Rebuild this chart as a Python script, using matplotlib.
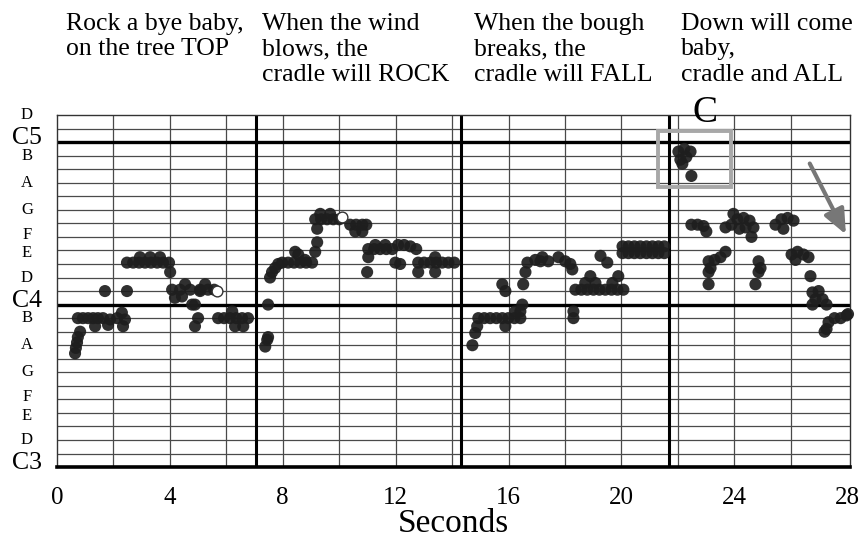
import numpy as np
import matplotlib
matplotlib.use('Agg')
import matplotlib.pyplot as plt
from matplotlib.patches import Rectangle
from matplotlib.transforms import blended_transform_factory

plt.rcParams['font.family'] = ['Liberation Serif', 'DejaVu Serif']

# pitch traces, time in seconds, pitch in semitones (MIDI: C3=48, C4=60, C5=72)
t1 = [0.64, 0.67, 0.71, 0.74, 0.82, 0.74, 0.92, 1.10, 1.28, 1.45, 1.63, 1.35,
      1.81, 1.88, 2.13, 2.30, 2.34, 2.41, 1.70, 2.48,
      2.48, 2.70, 2.91, 3.12, 3.33, 3.55, 3.76, 3.97, 2.94, 3.30, 3.65, 4.01,
      4.08, 4.36, 4.72, 5.07, 5.35, 5.57, 4.54, 4.18, 4.43, 4.79, 4.89, 5.07, 5.25,
      5.00, 4.89, 5.71, 5.92, 6.13, 6.35, 6.56, 6.77, 6.21, 6.31, 6.60]
p1 = [56.4, 56.8, 57.2, 57.6, 58.0, 59.0, 59.0, 59.0, 59.0, 59.0, 59.0, 58.4,
      58.5, 58.9, 59.0, 59.4, 58.4, 58.9, 61.0, 61.0,
      63.1, 63.1, 63.1, 63.1, 63.1, 63.1, 63.1, 63.1, 63.5, 63.5, 63.5, 62.4,
      61.1, 61.1, 61.1, 61.1, 61.1, 61.1, 61.5, 60.5, 60.6, 60.0, 60.0, 61.0, 61.5,
      59.0, 58.4, 59.0, 59.0, 59.0, 59.0, 59.0, 59.0, 59.5, 58.4, 58.4]

t2 = [7.38, 7.45, 7.48, 7.48, 7.55, 7.62, 7.73, 7.84,
      7.98, 8.19, 8.40, 8.62, 8.83, 9.04, 8.44, 8.55, 8.79, 9.15, 9.22,
      9.15, 9.36, 9.57, 9.79, 10.00, 9.33, 9.68, 9.22,
      10.39, 10.60, 10.82, 10.96, 10.57, 10.82,
      11.03, 11.24, 11.45, 11.67, 11.88, 11.28, 11.63, 11.03, 10.99,
      12.09, 12.30, 12.52, 12.73, 11.99, 12.16,
      12.80, 13.01, 13.23, 13.44, 13.65, 13.87, 14.08, 13.40, 12.80, 13.40]
p2 = [56.9, 57.4, 57.6, 60.0, 62.0, 62.4, 62.7, 63.0,
      63.1, 63.1, 63.1, 63.1, 63.1, 63.1, 63.9, 63.7, 63.3, 63.9, 64.6,
      66.3, 66.3, 66.3, 66.3, 66.3, 66.7, 66.7, 65.6,
      65.9, 65.9, 65.9, 65.9, 65.4, 65.4,
      64.1, 64.1, 64.1, 64.1, 64.1, 64.4, 64.4, 63.5, 62.4,
      64.4, 64.4, 64.3, 64.1, 63.1, 63.0,
      63.1, 63.1, 63.1, 63.1, 63.1, 63.1, 63.1, 63.5, 62.4, 62.4]

t3 = [14.72, 14.82, 14.89,
      14.93, 15.14, 15.35, 15.57, 15.78, 15.99, 16.21, 16.42,
      15.89, 16.24, 16.49, 16.42, 15.78, 15.89, 16.52,
      16.60, 16.67, 16.95, 17.20, 17.41, 17.13,
      17.77, 18.01, 18.19, 18.26, 18.30, 18.30,
      18.37, 18.58, 18.79, 19.01, 19.22, 19.43, 19.65, 19.86, 20.07,
      18.72, 19.08, 19.68, 18.90, 19.89, 19.26, 19.50,
      20.04, 20.25, 20.46, 20.67, 20.89, 21.10, 21.31, 21.52,
      20.04, 20.25, 20.46, 20.67, 20.89, 21.10, 21.31, 21.52]
p3 = [57.0, 57.9, 58.4,
      59.0, 59.0, 59.0, 59.0, 59.0, 59.0, 59.0, 59.0,
      58.4, 59.5, 60.0, 59.5, 61.5, 61.0, 61.5,
      62.4, 63.1, 63.3, 63.5, 63.2, 63.2,
      63.5, 63.2, 63.0, 62.6, 59.5, 59.0,
      61.1, 61.1, 61.1, 61.1, 61.1, 61.1, 61.1, 61.1, 61.1,
      61.6, 61.6, 61.6, 62.1, 62.1, 63.6, 63.1,
      64.3, 64.3, 64.3, 64.3, 64.3, 64.3, 64.3, 64.3,
      63.8, 63.8, 63.8, 63.8, 63.8, 63.8, 63.8, 63.8]

t4 = [22.02, 22.23, 22.45, 22.09, 22.30, 22.16, 22.48,
      22.48, 22.70, 22.91, 23.01,
      23.09, 23.30, 23.51, 23.69, 23.16, 23.09, 23.09,
      23.69, 23.90, 24.11, 24.33, 24.54, 24.18, 24.40, 24.68, 23.97, 24.61,
      24.86, 24.93, 24.86, 24.75,
      25.46, 25.67, 25.89, 26.10, 25.74,
      26.03, 26.24, 26.45, 26.17, 26.63, 26.70,
      26.77, 26.99, 26.88, 27.13, 26.77, 27.27,
      27.34, 27.55, 27.77, 27.98, 27.27, 28.03, 27.20]
p4 = [71.3, 71.5, 71.3, 70.7, 70.9, 70.4, 69.5,
      65.9, 65.9, 65.8, 65.4,
      63.2, 63.3, 63.5, 63.9, 62.7, 62.4, 61.5,
      65.7, 65.9, 66.3, 66.4, 66.2, 65.6, 65.7, 65.7, 66.7, 65.0,
      63.2, 62.7, 62.4, 61.5,
      65.9, 66.3, 66.4, 66.2, 65.6,
      63.7, 63.9, 63.7, 63.3, 63.5, 62.1,
      60.9, 61.0, 60.4, 60.4, 60.0, 60.0,
      58.7, 59.0, 59.0, 59.2, 58.2, 59.3, 58.0]

# open (white) points at phrase ends
open_t = [5.67, 10.10]
open_p = [61.0, 66.5]

phrase_breaks = [7.05, 14.3, 21.7]
xtick_vals = [0, 4, 8, 12, 16, 20, 24, 28]
note_pos = [74, 72, 71, 69, 67, 65, 64, 62, 60, 59, 57, 55, 53, 52, 50, 48]
note_names = ['D', 'C5', 'B', 'A', 'G', 'F', 'E', 'D', 'C4', 'B', 'A', 'G', 'F', 'E', 'D', 'C3']
lyrics = ["Rock a bye baby,\non the tree TOP",
          "When the wind\nblows, the\ncradle will ROCK",
          "When the bough\nbreaks, the\ncradle will FALL",
          "Down will come\nbaby,\ncradle and ALL"]
lyric_x = [0.076, 0.302, 0.547, 0.786]

fig = plt.figure(figsize=(8.66, 5.4), dpi=100, facecolor='white')
ax = fig.add_axes([0.0658, 0.135, 0.9157, 0.652])
ax.set_xlim(0, 28.1)
ax.set_ylim(48, 74)

# staff-like grid
for s in range(49, 74):
    if s in (60, 72):
        ax.axhline(s, color='black', lw=2.4, zorder=2)
    else:
        ax.axhline(s, color='#4a4a4a', lw=0.9, zorder=1)
for v in range(2, 28, 2):
    ax.axvline(v, color='#4a4a4a', lw=0.9, zorder=1)
for v in phrase_breaks:
    ax.axvline(v, color='black', lw=2.2, zorder=2)

for side in ['left', 'top', 'right']:
    ax.spines[side].set_color('#333333')
    ax.spines[side].set_linewidth(1.0)
ax.spines['bottom'].set_color('black')
ax.spines['bottom'].set_linewidth(2.6)

dot = '#1e1e1e'
for t, p in [(t1, p1), (t2, p2), (t3, p3), (t4, p4)]:
    ax.scatter(t, p, s=76, color=dot, edgecolors='none', alpha=0.92, zorder=4, clip_on=False)
ax.scatter(open_t, open_p, s=60, facecolor='white', edgecolors='#333333', linewidths=1.0, zorder=5)

ax.set_xticks(xtick_vals)
ax.set_xticklabels([str(v) for v in xtick_vals])
ax.set_yticks([])
ax.tick_params(axis='x', length=0, labelsize=18, pad=14)
ax.set_xlabel('Seconds', fontsize=24, labelpad=0)

trans = blended_transform_factory(ax.transAxes, ax.transData)
nudge = {'F': 0.15, 'E': -0.2}
for pos, name in zip(note_pos, note_names):
    if name.startswith('C'):
        ax.text(-0.0378, pos + 0.3, name, transform=trans, ha='center', va='center',
                fontsize=18.5)
    else:
        ax.text(-0.0378, pos + nudge.get(name, 0), name, transform=trans,
                ha='center', va='center', fontsize=12)

# highlight box + arrow
ax.add_patch(Rectangle((21.28, 68.7), 2.62, 4.15, fill=False, edgecolor='#a8a8a8',
                       lw=2.8, zorder=6))
ax.text(22.98, 74.15, 'C', ha='center', va='center', fontsize=27, clip_on=False)
ax.annotate('', xy=(28.0, 65.0), xytext=(26.63, 70.6),
            arrowprops=dict(arrowstyle='-|>,head_length=1.5,head_width=0.65',
                            lw=3, color='#777777'), zorder=6)

for x, txt in zip(lyric_x, lyrics):
    fig.text(x, 0.976, txt, ha='left', va='top', fontsize=18.5, linespacing=1.2)

fig.savefig('out.png', dpi=100, facecolor='white')
